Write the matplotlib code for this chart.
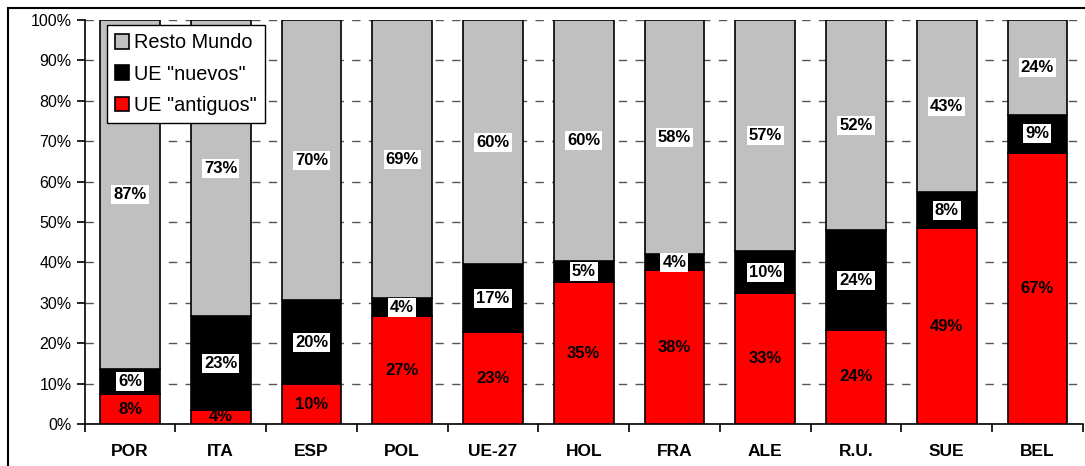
import numpy as np
import matplotlib.pyplot as plt
from matplotlib.patches import Rectangle

plt.rcParams['font.family'] = ['Liberation Sans', 'DejaVu Sans']

# data (percent)
paises = ['POR', 'ITA', 'ESP', 'POL', 'UE-27', 'HOL', 'FRA', 'ALE', 'R.U.', 'SUE', 'BEL']
antiguos = [7.4, 3.5, 9.9, 26.7, 22.8, 35.1, 38.1, 32.4, 23.3, 48.5, 67.1]
nuevos = [6.2, 23.2, 20.8, 4.5, 16.8, 5.2, 4.0, 10.4, 24.7, 8.9, 9.4]
resto = [86.4, 73.3, 69.3, 68.8, 60.4, 59.7, 57.9, 57.2, 52.0, 42.6, 23.5]

lab_antiguos = ['8%', '4%', '10%', '27%', '23%', '35%', '38%', '33%', '24%', '49%', '67%']
lab_nuevos = ['6%', '23%', '20%', '4%', '17%', '5%', '4%', '10%', '24%', '8%', '9%']
lab_resto = ['87%', '73%', '70%', '69%', '60%', '60%', '58%', '57%', '52%', '43%', '24%']

fig = plt.figure(figsize=(10.85, 4.66), dpi=100)
ax = fig.add_axes([0.078, 0.090, 0.920, 0.867])

x = np.arange(len(paises))
w = 0.66
a = np.array(antiguos)
n = np.array(nuevos)
r = np.array(resto)

ax.bar(x, a, w, color='#ff0000', edgecolor='black', linewidth=1.2, label='UE "antiguos"', zorder=3)
ax.bar(x, n, w, bottom=a, color='black', edgecolor='black', linewidth=1.2, label='UE "nuevos"', zorder=3)
ax.bar(x, r, w, bottom=a + n, color='#c0c0c0', edgecolor='black', linewidth=1.2, label='Resto Mundo', zorder=3)

# labels
for i in range(len(paises)):
    ax.text(x[i], a[i] / 2, lab_antiguos[i], ha='center', va='center',
            fontsize=12, fontweight='bold', zorder=5)
    ax.text(x[i], a[i] + n[i] / 2, lab_nuevos[i], ha='center', va='center',
            fontsize=12, fontweight='bold', zorder=5,
            bbox=dict(facecolor='white', edgecolor='none', pad=1.5))
    ax.text(x[i], a[i] + n[i] + r[i] / 2, lab_resto[i], ha='center', va='center',
            fontsize=12, fontweight='bold', zorder=5,
            bbox=dict(facecolor='white', edgecolor='none', pad=1.5))

ax.set_xlim(-0.5, len(paises) - 0.5)
ax.set_ylim(0, 100)
ax.set_yticks(np.arange(0, 101, 10))
ax.set_yticklabels([f'{v}%' for v in range(0, 101, 10)], fontsize=11.5)
ax.yaxis.grid(True, linestyle=(0, (6, 6)), color='#555555', linewidth=1, zorder=0)

ax.set_xticks(x)
ax.set_xticklabels(paises, fontsize=12.5, fontweight='bold')
ax.tick_params(axis='x', length=0, pad=14)
ax.set_xticks(np.arange(-0.5, len(paises)), minor=True)
ax.tick_params(axis='x', which='minor', length=6, direction='out', width=1.2)
ax.tick_params(axis='y', length=6, direction='out', width=1.2)

for s in ['top', 'right']:
    ax.spines[s].set_visible(False)
ax.spines['left'].set_linewidth(1.2)
ax.spines['bottom'].set_linewidth(1.2)

h, l = ax.get_legend_handles_labels()
leg = ax.legend(h[::-1], l[::-1], loc='upper left', bbox_to_anchor=(0.022, 0.987),
                fontsize=14.3, fancybox=False, framealpha=1, edgecolor='black',
                handlelength=0.75, handleheight=0.75, handletextpad=0.25,
                borderpad=0.4, labelspacing=0.62, borderaxespad=0)
leg.get_frame().set_linewidth(1)
leg.set_zorder(6)

# outer chart border
fig.patches.append(Rectangle((8 / 1085, -0.1), 1.2, 1.1 - 8 / 466,
                             transform=fig.transFigure, fill=False,
                             edgecolor='black', linewidth=1.5))

plt.savefig('out.png', dpi=100)
